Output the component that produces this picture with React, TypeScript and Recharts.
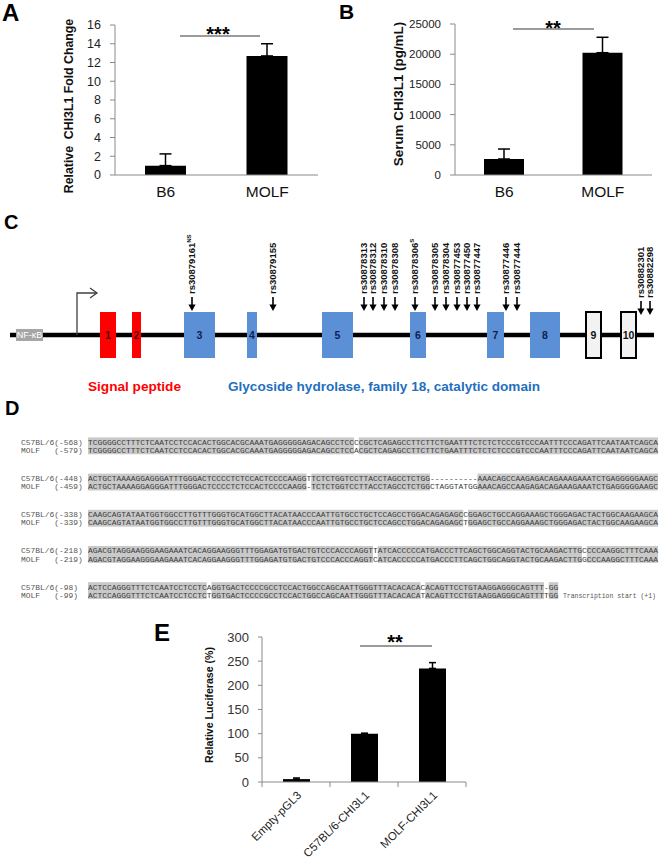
import React from 'react';
import {
  BarChart,
  Bar,
  XAxis,
  YAxis,
  ErrorBar,
  ComposedChart,
  ReferenceArea,
  ReferenceLine,
  ReferenceDot,
  Scatter,
} from 'recharts';

const FONT = '"Liberation Sans", Arial, Helvetica, sans-serif';
const MONO = '"Liberation Mono", "Courier New", monospace';
const AXIS = '#8a8a8a';

// ---------- Panel A ----------
const aCategories = ['B6', 'MOLF'];
const aFoldChange = [1.0, 12.7];
const aFoldChangeErr = [1.25, 1.3];
const aTicks = [0, 2, 4, 6, 8, 10, 12, 14, 16];

// ---------- Panel B ----------
const bCategories = ['B6', 'MOLF'];
const bSerum = [2650, 20250];
const bSerumErr = [1650, 2550];
const bTicks = [0, 5000, 10000, 15000, 20000, 25000];

// ---------- Panel E ----------
const eCategories = ['Empty-pGL3', 'C57BL/6-CHI3L1', 'MOLF-CHI3L1'];
const eLuciferase = [6, 100, 235];
const eLuciferaseErr = [2.3, 1, 12];
const eTicks = [0, 50, 100, 150, 200, 250, 300];

// ---------- Panel C (gene structure, relative diagram position) ----------
const geneLength = 644;
const exonLabels = ['1', '2', '3', '4', '5', '6', '7', '8', '9', '10'];
const exonStart = [90, 122, 174, 237, 312, 400, 477, 520, 576, 611];
const exonEnd = [106, 131, 205, 247, 343, 416, 494, 550, 591, 626];
const exonDomain = ['signal', 'signal', 'gh', 'gh', 'gh', 'gh', 'gh', 'gh', 'none', 'none'];
const nfkbStart = 6;
const nfkbEnd = 33;
const tssPos = 67;
const snpIds = [
  'rs30879161', 'rs30879155', 'rs30878313', 'rs30878312', 'rs30878310', 'rs30878308',
  'rs30878306', 'rs30878305', 'rs30878304', 'rs30877453', 'rs30877450', 'rs30877447',
  'rs30877446', 'rs30877444', 'rs30882301', 'rs30882298',
];
const snpSuffix = ['NS', '', '', '', '', '', 'S', '', '', '', '', '', '', '', '', ''];
const snpPos = [182, 263, 354, 363, 374, 385, 405, 425, 436, 447, 457, 467, 496, 507, 631, 640];

// ---------- Panel D (promoter alignment) ----------
const seqLabelsC57 = ['C57BL/6(-568)', 'C57BL/6(-448)', 'C57BL/6(-338)', 'C57BL/6(-218)', 'C57BL/6(-98)'];
const seqLabelsMOLF = ['(-579)', '(-459)', '(-339)', '(-219)', '(-99)'];
const seqC57 = [
  'TCGGGGCCTTTCTCAATCCTCCACACTGGCACGCAAATGAGGGGGAGACAGCCTCCCCGCTCAGAGCCTTCTTCTGAATTTCTCTCTCCCGTCCCAATTTCCCAGATTCAATAATCAGCA',
  'ACTGCTAAAAGGAGGGATTTGGGACTCCCCTCTCCACTCCCCAAGGTTCTCTGGTCCTTACCTAGCCTCTGG----------AAACAGCCAAGAGACAGAAAGAAATCTGAGGGGGAAGC',
  'CAAGCAGTATAATGGTGGCCTTGTTTGGGTGCATGGCTTACATAACCCAATTGTGCCTGCTCCAGCCTGGACAGAGAGCCGGAGCTGCCAGGAAAGCTGGGAGACTACTGGCAAGAAGCA',
  'AGACGTAGGAAGGGAAGAAATCACAGGAAGGGTTTGGAGATGTGACTGTCCCACCCAGGTTATCACCCCCATGACCCTTCAGCTGGCAGGTACTGCAAGACTTGCCCCAAGGCTTTCAAA',
  'ACTCCAGGGTTTCTCAATCCTCCTCAGGTGACTCCCCGCCTCCACTGGCCAGCAATTGGGTTTACACACACACAGTTCCTGTAAGGAGGGCAGTTT-GG',
];
const seqMOLF = [
  'TCGGGGCCTTTCTCAATCCTCCACACTGGCACGCAAATGAGGGGGAGACAGCCTCCACGCTCAGAGCCTTCTTCTGAATTTCTCTCTCCCGTCCCAATTTCCCAGATTCAATAATCAGCA',
  'ACTGCTAAAAGGAGGGATTTGGGACTCCCCTCTCCACTCCCCAAGG-TCTCTGGTCCTTACCTAGCCTCTGGCTAGGTATGGAAACAGCCAAGAGACAGAAAGAAATCTGAGGGGGAAGC',
  'CAAGCAGTATAATGGTGGCCTTGTTTGGGTGCATGGCTTACATAACCCAATTGTGCCTGCTCCAGCCTGGACAGAGAGCTGGAGCTGCCAGGAAAGCTGGGAGACTACTGGCAAGAAGCA',
  'AGACGTAGGAAGGGAAGAAATCACAGGAAGGGTTTGGAGATGTGACTGTCCCACCCAGGTCATCACCCCCATGACCCTTCAGCTGGCAGGTACTGCAAGACTTGGCCCAAGGCTTTCAAA',
  'ACTCCAGGGTTTCTCAATCCTCCTCTGGTGACTCCCCGCCTCCACTGGCCAGCAATTGGGTTTACACACATACAGTTCCTGTAAGGAGGGCAGTTTTGG',
];
const transcriptionStartLabel = 'Transcription start (+1)';

// ---------- helpers ----------
const makeCatTick = (fontSize: number, dy: number) => (props: any) => {
  const { x, y, payload } = props;
  return (
    <text x={x} y={y + dy} textAnchor="middle" fontSize={fontSize} fontFamily={FONT} fill="#111">
      {payload.value}
    </text>
  );
};

const eTick = (props: any) => {
  const { x, y, payload, index } = props;
  const half = typeof payload?.offset === 'number' && payload.offset > 0 ? payload.offset : 34;
  const ax = x + 6;
  const ay = y + 14;
  return (
    <g>
      <line x1={x - half} x2={x - half} y1={y} y2={y + 5} stroke={AXIS} />
      {index === eCategories.length - 1 && (
        <line x1={x + half} x2={x + half} y1={y} y2={y + 5} stroke={AXIS} />
      )}
      <text
        x={ax}
        y={ay}
        textAnchor="end"
        transform={`rotate(-45 ${ax} ${ay})`}
        fontSize={11.5}
        fontFamily={FONT}
        fill="#222"
      >
        {payload.value}
      </text>
    </g>
  );
};

const snpShape = (props: any) => {
  const { cx, cy, payload } = props;
  if (cx == null || cy == null) return <g />;
  const deep = payload.pos > exonEnd[exonEnd.length - 1];
  const tip = cy + (deep ? 4 : 0);
  const textStart = tip - 17;
  return (
    <g>
      <line x1={cx} x2={cx} y1={tip - 14} y2={tip - 5} stroke="#000" strokeWidth={1.6} />
      <path d={`M${cx - 3.6},${tip - 6.5} L${cx + 3.6},${tip - 6.5} L${cx},${tip} Z`} fill="#000" />
      <text
        transform={`translate(${cx + 3.4},${textStart}) rotate(-90)`}
        fontSize={9.5}
        fontWeight="bold"
        fontFamily={FONT}
        fill="#111"
      >
        {payload.id}
        {payload.sup ? (
          <tspan fontSize={6} dy={-4}>
            {payload.sup}
          </tspan>
        ) : null}
      </text>
    </g>
  );
};

const tssShape = (props: any) => {
  const { cx, cy } = props;
  if (cx == null || cy == null) return <g />;
  const top = cy - 42;
  const end = cx + 20;
  return (
    <g fill="none" stroke="#404040" strokeWidth={1.3}>
      <path d={`M${cx},${cy} V${top} H${end}`} />
      <path d={`M${end - 7},${top - 5} L${end},${top} L${end - 7},${top + 5}`} />
    </g>
  );
};

function PanelA() {
  const data = aCategories.map((name, i) => ({ name, value: aFoldChange[i], err: [0, aFoldChangeErr[i]] }));
  return (
    <div style={{ position: 'absolute', left: 0, top: 0 }}>
      <BarChart width={330} height={200} data={data} margin={{ top: 25, right: 12, bottom: 0, left: 55 }}>
        <XAxis
          dataKey="name"
          height={25}
          axisLine={{ stroke: AXIS }}
          tickLine={false}
          tickSize={0}
          tickMargin={0}
          interval={0}
          tick={makeCatTick(15.5, 22)}
        />
        <YAxis
          width={60}
          type="number"
          domain={[0, 16]}
          ticks={aTicks}
          interval={0}
          tickSize={5}
          tickMargin={9}
          axisLine={{ stroke: AXIS }}
          tickLine={{ stroke: AXIS }}
          tick={{ fontSize: 12.5, fill: '#222', fontFamily: FONT }}
        />
        <Bar dataKey="value" fill="#000" barSize={41} isAnimationActive={false}>
          <ErrorBar dataKey="err" width={6} stroke="#000" strokeWidth={1.5} direction="y" isAnimationActive={false} />
        </Bar>
      </BarChart>
    </div>
  );
}

function PanelB() {
  const data = bCategories.map((name, i) => ({ name, value: bSerum[i], err: [0, bSerumErr[i]] }));
  return (
    <div style={{ position: 'absolute', left: 330, top: 0 }}>
      <BarChart width={334} height={200} data={data} margin={{ top: 24, right: 12, bottom: 0, left: 65 }}>
        <XAxis
          dataKey="name"
          height={25}
          axisLine={{ stroke: AXIS }}
          tickLine={false}
          tickSize={0}
          tickMargin={0}
          interval={0}
          tick={makeCatTick(15.5, 22)}
        />
        <YAxis
          width={60}
          type="number"
          domain={[0, 25000]}
          ticks={bTicks}
          interval={0}
          tickSize={5}
          tickMargin={9}
          axisLine={{ stroke: AXIS }}
          tickLine={{ stroke: AXIS }}
          tick={{ fontSize: 11.5, fill: '#222', fontFamily: FONT }}
        />
        <Bar dataKey="value" fill="#000" barSize={40} isAnimationActive={false}>
          <ErrorBar dataKey="err" width={6} stroke="#000" strokeWidth={1.5} direction="y" isAnimationActive={false} />
        </Bar>
      </BarChart>
    </div>
  );
}

function PanelE() {
  const data = eCategories.map((name, i) => ({ name, value: eLuciferase[i], err: [0, eLuciferaseErr[i]] }));
  return (
    <div style={{ position: 'absolute', left: 150, top: 600 }}>
      <BarChart width={330} height={263} data={data} margin={{ top: 37, right: 14, bottom: 0, left: 52 }}>
        <XAxis
          dataKey="name"
          height={81}
          axisLine={{ stroke: AXIS }}
          tickLine={false}
          tickSize={0}
          tickMargin={0}
          interval={0}
          tick={eTick}
        />
        <YAxis
          width={60}
          type="number"
          domain={[0, 300]}
          ticks={eTicks}
          interval={0}
          tickSize={4}
          tickMargin={9}
          axisLine={{ stroke: AXIS }}
          tickLine={{ stroke: AXIS }}
          tick={{ fontSize: 13, fill: '#333', fontFamily: FONT }}
        />
        <Bar dataKey="value" fill="#000" barSize={27} isAnimationActive={false}>
          <ErrorBar dataKey="err" width={3.5} stroke="#000" strokeWidth={1.5} direction="y" isAnimationActive={false} />
        </Bar>
      </BarChart>
    </div>
  );
}

function PanelC() {
  const backboneY = 135;
  const exonTop = 112;
  const exonBottom = 158;
  const snpData = snpIds.map((id, i) => ({ id, sup: snpSuffix[i], pos: snpPos[i], level: 111 }));
  const breaks: [number, number][] = [[nfkbStart, nfkbEnd]];
  exonStart.forEach((s, i) => breaks.push([s, exonEnd[i]]));
  const segments: [number, number][] = [];
  let cur = 0;
  breaks.forEach(([s, e]) => {
    segments.push([cur, s]);
    cur = e;
  });
  segments.push([cur, geneLength]);
  const exonFill = (d: string) => (d === 'signal' ? '#ff0000' : d === 'gh' ? '#5b8fd6' : '#f2f2f2');
  const exonText = (d: string) => (d === 'signal' ? '#4a0606' : d === 'gh' ? '#0f1f4f' : '#111');
  return (
    <div style={{ position: 'absolute', left: 0, top: 200 }}>
      <ComposedChart width={664} height={200} margin={{ top: 0, right: 10, bottom: 0, left: 10 }}>
        <XAxis type="number" dataKey="pos" domain={[0, geneLength]} hide allowDataOverflow />
        <YAxis type="number" dataKey="level" domain={[0, 200]} reversed hide allowDataOverflow />
        {segments.map(([s, e], i) => (
          <ReferenceLine
            key={`seg${i}`}
            segment={[
              { x: s, y: backboneY },
              { x: e, y: backboneY },
            ]}
            stroke="#000"
            strokeWidth={4.5}
          />
        ))}
        <ReferenceArea
          x1={nfkbStart}
          x2={nfkbEnd}
          y1={129}
          y2={141}
          fill="#a6a6a6"
          fillOpacity={1}
          stroke="none"
          label={{ value: 'NF-κB', position: 'center', fill: '#fff', fontSize: 9, fontFamily: FONT }}
        />
        {exonLabels.map((lab, i) => (
          <ReferenceArea
            key={`ex${lab}`}
            x1={exonStart[i]}
            x2={exonEnd[i]}
            y1={exonTop}
            y2={exonBottom}
            fill={exonFill(exonDomain[i])}
            fillOpacity={1}
            stroke={exonDomain[i] === 'none' ? '#000' : 'none'}
            strokeWidth={exonDomain[i] === 'none' ? 2 : 0}
            label={{
              value: lab,
              position: 'center',
              fill: exonText(exonDomain[i]),
              fontSize: 10.5,
              fontWeight: 'bold',
              fontFamily: FONT,
            }}
          />
        ))}
        <ReferenceDot x={tssPos} y={backboneY} r={0} shape={tssShape} />
        <Scatter data={snpData} shape={snpShape} isAnimationActive={false} />
      </ComposedChart>
    </div>
  );
}

function AlignmentBlocks() {
  const charW = 4.75;
  const seqX = 88;
  const labelX = 21;
  const blockTop = 442;
  const blockStep = 36.2;
  const rowGap = 8.3;
  const fs = 7.9;
  const items: React.ReactNode[] = [];
  seqC57.forEach((s1, b) => {
    const s2 = seqMOLF[b];
    const c1 = blockTop + b * blockStep;
    let runStart = -1;
    for (let j = 0; j <= s1.length; j++) {
      const same = j < s1.length && s1[j] === s2[j] && s1[j] !== '-';
      if (same && runStart < 0) runStart = j;
      if (!same && runStart >= 0) {
        items.push(
          <rect
            key={`r${b}-${runStart}`}
            x={seqX + runStart * charW}
            y={c1 - 4.6}
            width={(j - runStart) * charW}
            height={rowGap + 8.6}
            fill="#c9c9c9"
          />
        );
        runStart = -1;
      }
    }
    const base1 = c1 + 2.7;
    const base2 = c1 + rowGap + 2.7;
    items.push(
      <text key={`l1${b}`} x={labelX} y={base1} fontFamily={MONO} fontSize={fs} fill="#555"
        textLength={seqLabelsC57[b].length * charW} lengthAdjust="spacingAndGlyphs">
        {seqLabelsC57[b]}
      </text>,
      <text key={`l2a${b}`} x={labelX} y={base2} fontFamily={MONO} fontSize={fs} fill="#555"
        textLength={4 * charW} lengthAdjust="spacingAndGlyphs">
        MOLF
      </text>,
      <text key={`l2b${b}`} x={labelX + 7 * charW} y={base2} fontFamily={MONO} fontSize={fs} fill="#555"
        textLength={seqLabelsMOLF[b].length * charW} lengthAdjust="spacingAndGlyphs">
        {seqLabelsMOLF[b]}
      </text>,
      <text key={`s1${b}`} x={seqX} y={base1} fontFamily={MONO} fontSize={fs} fill="#3c3c3c"
        textLength={s1.length * charW} lengthAdjust="spacingAndGlyphs">
        {s1}
      </text>,
      <text key={`s2${b}`} x={seqX} y={base2} fontFamily={MONO} fontSize={fs} fill="#3c3c3c"
        textLength={s2.length * charW} lengthAdjust="spacingAndGlyphs">
        {s2}
      </text>
    );
    if (b === seqC57.length - 1) {
      items.push(
        <text key="tss" x={seqX + (s2.length + 1) * charW} y={base2} fontFamily={MONO} fontSize={6.4} fill="#555"
          textLength={93} lengthAdjust="spacingAndGlyphs">
          {transcriptionStartLabel}
        </text>
      );
    }
  });
  return <g>{items}</g>;
}

function Overlay() {
  const letter = { fontFamily: FONT, fontWeight: 'bold' as const, fill: '#000' };
  return (
    <svg
      width={664}
      height={863}
      style={{ position: 'absolute', left: 0, top: 0, pointerEvents: 'none' }}
    >
      <text x={2} y={21} fontSize={24} {...letter}>A</text>
      <text x={339} y={19} fontSize={21} {...letter}>B</text>
      <text x={4} y={229} fontSize={20} {...letter}>C</text>
      <text x={5} y={415} fontSize={20} {...letter}>D</text>
      <text x={154} y={641} fontSize={24} {...letter}>E</text>

      <text
        transform="translate(73,106) rotate(-90)"
        textAnchor="middle"
        fontSize={12.3}
        fontWeight="bold"
        fontFamily={FONT}
        fill="#111"
        style={{ whiteSpace: 'pre' }}
      >
        {'Relative  CHI3L1 Fold Change'}
      </text>
      <text
        transform="translate(403,94) rotate(-90)"
        textAnchor="middle"
        fontSize={13.4}
        fontWeight="bold"
        fontFamily={FONT}
        fill="#111"
      >
        Serum CHI3L1 (pg/mL)
      </text>
      <text
        transform="translate(213,705) rotate(-90)"
        textAnchor="middle"
        fontSize={10.6}
        fontWeight="bold"
        fontFamily={FONT}
        fill="#111"
      >
        Relative Luciferase (%)
      </text>

      <line x1={180} x2={260} y1={36} y2={36} stroke="#7a7a7a" strokeWidth={1.3} />
      <text x={218} y={41} textAnchor="middle" fontSize={20} fontWeight="bold" fontFamily={FONT}>***</text>
      <line x1={513} x2={594} y1={29} y2={29} stroke="#7a7a7a" strokeWidth={1.3} />
      <text x={553} y={34.5} textAnchor="middle" fontSize={20} fontWeight="bold" fontFamily={FONT}>**</text>
      <line x1={360} x2={432} y1={646} y2={646} stroke="#7a7a7a" strokeWidth={1.3} />
      <text x={395} y={649} textAnchor="middle" fontSize={20} fontWeight="bold" fontFamily={FONT}>**</text>

      <text x={88} y={391} fontSize={13} fontWeight="bold" fontFamily={FONT} fill="#ff0000"
        textLength={93} lengthAdjust="spacingAndGlyphs">
        Signal peptide
      </text>
      <text x={228} y={391} fontSize={13} fontWeight="bold" fontFamily={FONT} fill="#1f6fc0"
        textLength={312} lengthAdjust="spacingAndGlyphs">
        Glycoside hydrolase, family 18, catalytic domain
      </text>

      <AlignmentBlocks />
    </svg>
  );
}

export default function App() {
  return (
    <div
      style={{
        position: 'absolute',
        left: 0,
        top: 0,
        width: 664,
        height: 863,
        background: '#fff',
        overflow: 'hidden',
      }}
    >
      <PanelA />
      <PanelB />
      <PanelC />
      <PanelE />
      <Overlay />
    </div>
  );
}
